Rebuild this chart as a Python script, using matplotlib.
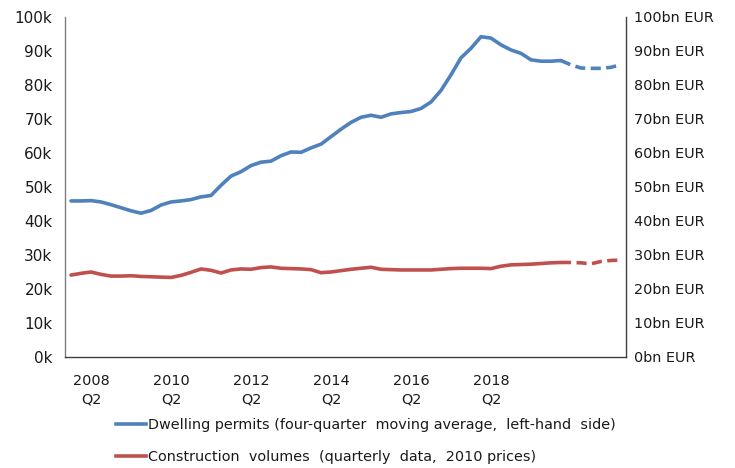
import matplotlib.pyplot as plt
import numpy as np
from matplotlib.lines import Line2D

# quarterly series, first point 2007 Q4; last 7 points are projections (dashed)
permits = [
    45.9, 45.9, 46.0, 45.6, 44.8, 43.9, 43.0, 42.3, 43.1, 44.7,
    45.6, 45.9, 46.3, 47.1, 47.5, 50.5, 53.2, 54.5, 56.3, 57.3,
    57.6, 59.2, 60.3, 60.2, 61.5, 62.6, 64.8, 67.0, 69.0, 70.5,
    71.1, 70.5, 71.5, 71.9, 72.2, 73.1, 75.0, 78.4, 83.0, 88.0,
    90.8, 94.2, 93.8, 91.8, 90.3, 89.3, 87.4, 87.0, 87.0, 87.2,
    85.9, 85.0, 84.9, 84.9, 85.2, 86.0,
]
construction = [
    24.1, 24.6, 25.0, 24.3, 23.8, 23.8, 23.9, 23.7, 23.6, 23.5,
    23.4, 24.0, 24.9, 25.9, 25.5, 24.7, 25.6, 25.9, 25.8, 26.3,
    26.5, 26.1, 26.0, 25.9, 25.7, 24.8, 25.0, 25.4, 25.8, 26.1,
    26.4, 25.8, 25.7, 25.6, 25.6, 25.6, 25.6, 25.8, 26.0, 26.1,
    26.1, 26.1, 26.0, 26.7, 27.1, 27.2, 27.3, 27.5, 27.7, 27.8,
    27.8, 27.7, 27.4, 28.1, 28.4, 28.5,
]
n_actual = 50
tick_pos = [2, 10, 18, 26, 34, 42]
tick_labels = ["2008\nQ2", "2010\nQ2", "2012\nQ2", "2014\nQ2", "2016\nQ2", "2018\nQ2"]
labels = [
    "Dwelling permits (four-quarter  moving average,  left-hand  side)",
    "Construction  volumes  (quarterly  data,  2010 prices)",
]

blue = "#4f81bd"
red = "#c0504d"
txt = "#1a1a1a"
lw = 2.6
dash = (0, (2.8, 1.5))

plt.rcParams["font.family"] = "DejaVu Sans"
plt.rcParams["font.size"] = 10.4

fig = plt.figure(figsize=(7.35, 4.68), dpi=100)
ax = fig.add_axes([65 / 735, 1 - 357 / 468, 561 / 735, 340 / 468])
ax2 = ax.twinx()

x = np.arange(len(permits))
for series, col in [(permits, blue), (construction, red)]:
    ax.plot(x[:n_actual], series[:n_actual], color=col, lw=lw,
            solid_capstyle="round", solid_joinstyle="round")
    ax.plot(x[n_actual - 1:], series[n_actual - 1:], color=col, lw=lw,
            linestyle=dash, dash_capstyle="butt")

ax.set_xlim(-0.6, 55.5)
ax.set_ylim(0, 100)
ax2.set_ylim(0, 100)

yt = np.arange(0, 101, 10)
ax.set_yticks(yt)
ax.set_yticklabels([f"{v}k" for v in yt], color=txt, fontsize=11)
ax2.set_yticks(yt)
ax2.set_yticklabels([f"{v}bn EUR" for v in yt], color=txt)
ax.set_xticks(tick_pos)
ax.set_xticklabels(tick_labels, color=txt, linespacing=1.4)

ax.tick_params(axis="y", length=0, pad=9)
ax2.tick_params(axis="y", length=0, pad=6)
ax.tick_params(axis="x", length=0, pad=12)

for a in (ax, ax2):
    a.spines["top"].set_visible(False)
ax2.spines["left"].set_visible(False)
ax2.spines["bottom"].set_visible(False)
ax.spines["right"].set_visible(False)
ax.spines["left"].set_color("#7f7f7f")
ax.spines["bottom"].set_color("#404040")
ax2.spines["right"].set_color("#404040")
for s in ("left", "bottom"):
    ax.spines[s].set_linewidth(1.0)
ax2.spines["right"].set_linewidth(1.0)

handles = [Line2D([], [], color=blue, lw=lw), Line2D([], [], color=red, lw=lw)]
fig.legend(handles, labels, loc="center left",
           bbox_to_anchor=(116 / 735, 1 - 441 / 468),
           frameon=False, borderpad=0, borderaxespad=0,
           handlelength=2.1, handletextpad=0.1, labelspacing=1.2,
           labelcolor=txt, fontsize=10.4)

fig.savefig("out.png", dpi=100)
